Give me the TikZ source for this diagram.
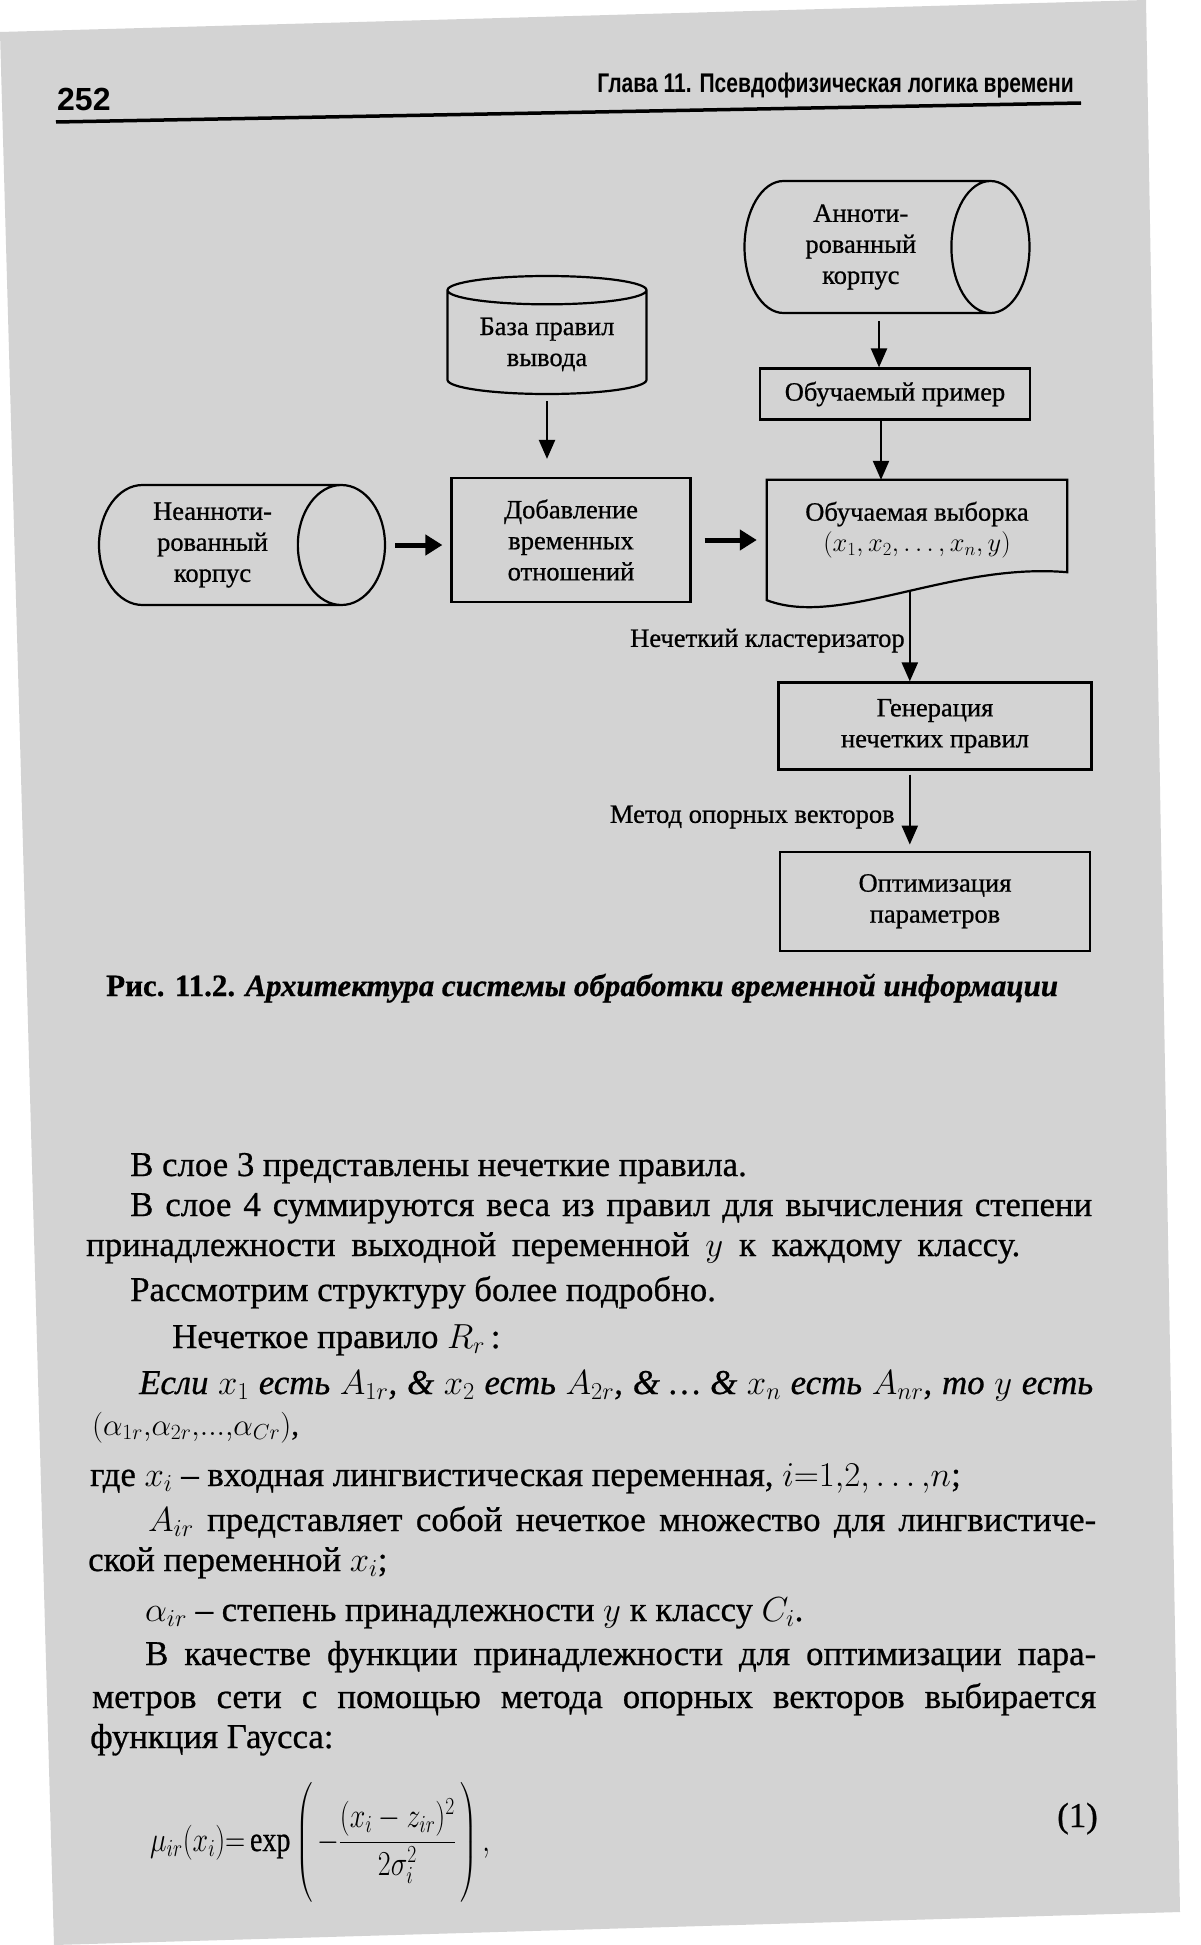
\RequirePackage{fix-cm}
\documentclass[tikz,border=0pt]{standalone}
\usepackage{amsmath}
\usepackage{fontspec}
\setmainfont{Liberation Serif}[FakeBold=0.7]
\newfontfamily\headfont[FakeStretch=0.78]{Liberation Sans}
\newfontfamily\pagenofont{Liberation Sans}
\usepackage{xcolor}
\definecolor{paper}{HTML}{D3D3D3}
\usepackage{tikz}
\usetikzlibrary{arrows.meta,positioning,shapes.geometric,calc}
\newcommand{\dtext}{\fontsize{26.5}{31}\selectfont}
\newcommand{\btext}{\fontsize{34.8}{40}\selectfont}
\newcommand{\ctext}{\fontsize{31}{36}\selectfont}
\newcommand{\hfont}{\headfont\bfseries\fontsize{27}{30}\selectfont}
\newcommand{\pnfont}{\pagenofont\bfseries\fontsize{32}{34}\selectfont}
\newcommand{\jline}[2]{\makebox[#1][s]{#2}}

\begin{document}
\begin{tikzpicture}[x=1pt,y=-1pt,
  box/.style={draw,line width=2.2pt,align=center,font=\dtext},
  drum/.style={draw,cylinder,line width=2.2pt,align=center,font=\dtext,anchor=shape center},
  arr/.style={-{Triangle[length=19pt,width=16pt]},line width=2.3pt},
  fat/.style={-{Triangle[length=17pt,width=20pt]},line width=5pt},
  lbl/.style={font=\dtext,inner sep=4pt},
  txt/.style={anchor=base west,inner sep=0pt,font=\btext}]
\useasboundingbox (0,0) rectangle (1200,1945);
\fill[white] (0,0) rectangle (1200,1945);
\fill[paper] (0,32) -- (1146,0) -- (1180,1912) -- (54,1945) -- cycle;
% running head
\node[anchor=base west,inner sep=0pt,font=\pnfont] (pno) at (57,111) {252};
\node[anchor=base east,inner sep=0pt,font=\hfont] (head) at (1074,93) {Глава 11. Псевдофизическая логика времени};
\draw[line width=3.5pt] (56,122) -- (1081,103);
% diagram
\node[drum,minimum width=132pt,minimum height=285pt,aspect=0.85] (anno) at (887,247) {Анноти-\\рованный\\корпус};
\node[drum,shape border rotate=90,minimum width=199pt,minimum height=118pt,aspect=0.2] (rules) at (547,335) {База правил\\вывода};
\node[box,minimum width=270pt,minimum height=51pt] (ex) at (895,394) {Обучаемый пример};
\node[drum,minimum width=120pt,minimum height=286pt,aspect=0.95] (raw) at (242,545) {Неанноти-\\рованный\\корпус};
\node[box,minimum width=239pt,minimum height=124pt] (dob) at (571,540) {Добавление\\временных\\отношений};
\node[font=\dtext,align=center,minimum width=300pt,minimum height=100pt] (vyb) at (917,530) {Обучаемая выборка\\$(x_1, x_2, \ldots, x_n, y)$};
\draw[line width=2.2pt] (vyb.north east) -- (vyb.north west) -- ($(vyb.south west)+(0,20)$)
  .. controls ($(vyb.south west)+(73,48)$) and ($(vyb.south east)+(-117,-18)$) .. ($(vyb.south east)+(0,-8)$)
  coordinate[pos=0.53] (wv) -- cycle;
\node[box,minimum width=313pt,minimum height=87pt] (gen) at (935,726) {Генерация\\нечетких правил};
\node[box,minimum width=310pt,minimum height=99pt,below=80pt of gen] (opt) {Оптимизация\\параметров};
\draw[arr,shorten <=7pt] ($(anno.south -| ex.north)+(-16,0)$) -- ($(ex.north)+(-16,0)$);
\draw[arr] ($(ex.south)+(-14,0)$) -- ($(ex.south |- vyb.north)+(-14,0)$);
\draw[arr,shorten <=6pt,shorten >=18pt] (rules.south) -- (rules.south |- dob.north);
\draw[fat,shorten <=9pt,shorten >=8pt] (raw.east) -- (raw.east -| dob.west);
\draw[fat,shorten <=13pt,shorten >=10pt] (dob.east) -- (dob.east -| vyb.west);
\draw[arr] (wv) -- node[lbl,left,pos=0.55] (clu) {Нечеткий кластеризатор} (wv |- gen.north);
\draw[arr,shorten <=4pt,shorten >=6pt] (wv |- gen.south) -- node[lbl,left=10pt,pos=0.58] (svm) {Метод опорных векторов} (wv |- opt.north);
% caption
\node[anchor=base west,inner sep=0pt,font=\ctext] (cap) at (106,996) {\textbf{Рис. 11.2.} \textbf{\textit{Архитектура системы обработки временной информации}}};
% text of the page
\node[txt] (p1) at (130,1176) {В слое 3 представлены нечеткие правила.};
\node[txt] (p2) at (130,1216) {\jline{962pt}{В слое 4 суммируются веса из правил для вычисления степени}};
\node[txt] (p3) at (86,1256) {\jline{934pt}{принадлежности выходной переменной $y$ к каждому классу.}};
\node[txt] (p4) at (130,1301) {Рассмотрим структуру более подробно.};
\node[txt] (p5) at (172,1348) {Нечеткое правило $R_r$\,:};
\node[txt] (p6) at (139,1394) {\jline{954pt}{\itshape Если $x_1$ есть $A_{1r}$, \& $x_2$ есть $A_{2r}$, \& \ldots{} \& $x_n$ есть $A_{nr}$, то $y$ есть}};
\node[txt,font=\fontsize{31}{36}\selectfont] (p7) at (92,1435) {$(\alpha_{1r}{,}\alpha_{2r}{,}{\ldotp}{\ldotp}{\ldotp}{,}\alpha_{Cr})$,};
\node[txt] (p8) at (90,1486) {где $x_i$ – входная лингвистическая переменная, $i{=}1{,}2{,}\ldots{,}n$;};
\node[txt] (p9) at (148,1531) {\jline{948pt}{$A_{ir}$ представляет собой нечеткое множество для лингвистиче-}};
\node[txt] (p10) at (88,1571) {ской переменной $x_i$;};
\node[txt] (p11) at (145,1621) {$\alpha_{ir}$ – степень принадлежности $y$ к классу $C_i$.};
\node[txt] (p12) at (145,1665) {\jline{951pt}{В качестве функции принадлежности для оптимизации пара-}};
\node[txt] (p13) at (92,1708) {\jline{1004pt}{метров сети с помощью метода опорных векторов выбирается}};
\node[txt] (p14) at (90,1748) {функция Гаусса:};
\node[txt,font=\fontsize{35}{40}\selectfont] (gauss) at (150,1851) {\scalebox{0.8}[1]{$\displaystyle \mu_{ir}(x_i){=}\exp\left(\vphantom{\rule[-50pt]{0pt}{112pt}}\,{-}\frac{(x_i-z_{ir})^2}{2\sigma_i^2}\,\right),$}};
\node[anchor=base east,inner sep=0pt,font=\btext] (eqno) at (1098,1827) {(1)};
\end{tikzpicture}
\end{document}
